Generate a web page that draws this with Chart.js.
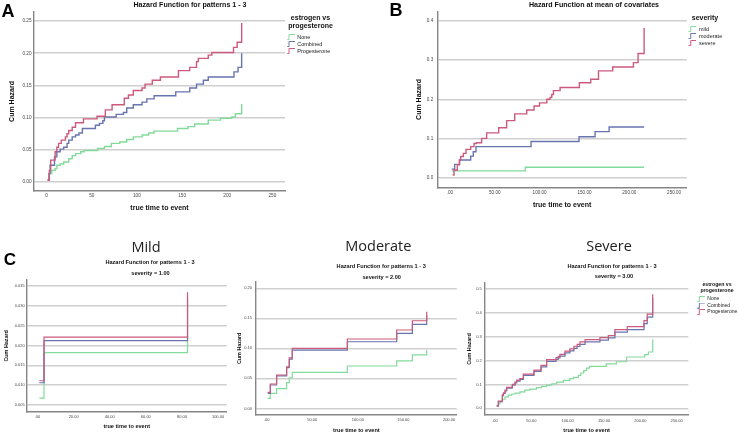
<!DOCTYPE html>
<html>
<head>
<meta charset="utf-8">
<title>Hazard Function</title>
<script src="https://cdn.jsdelivr.net/npm/chart.js@4.4.1/dist/chart.umd.min.js"></script>
<style>
  html, body { margin: 0; padding: 0; background: #fff; }
  body { position: relative; width: 739px; height: 435px; overflow: hidden; }
  canvas { position: absolute; }
  .t { position: absolute; transform: translate(-50%, -50%); white-space: nowrap; line-height: 1;
       font-family: 'Liberation Sans', Arial, sans-serif; color: #111; }
  .panel { font-size: 18px; font-weight: bold; color: #000; }
  .big { font-family: 'Open Sans', sans-serif; font-size: 14.5px; color: #222; }
  .ttl { font-size: 7.1px; font-weight: bold; }
  .sub { font-size: 5.6px; font-weight: bold; }
</style>
</head>
<body>
<canvas id="chartA" width="370" height="215" style="left:0;top:0"></canvas>
<canvas id="chartB" width="369" height="215" style="left:370px;top:0"></canvas>
<canvas id="chartMild" width="240" height="205" style="left:0;top:230px"></canvas>
<canvas id="chartModerate" width="258" height="205" style="left:232px;top:230px"></canvas>
<canvas id="chartSevere" width="284" height="205" style="left:462px;top:230px"></canvas>

<div class="t panel" style="left:8px;top:10.5px">A</div>
<div class="t panel" style="left:396px;top:10px">B</div>
<div class="t panel" style="left:10px;top:259px;font-size:17px">C</div>
<div class="t ttl" style="left:190px;top:6.3px">Hazard Function for patterns 1 - 3</div>
<div class="t ttl" style="left:594px;top:6.3px">Hazard Function at mean of covariates</div>

<div class="t big" style="left:146px;top:247px">Mild</div>
<div class="t sub" style="left:150px;top:263.3px">Hazard Function for patterns 1 - 3</div>
<div class="t sub" style="left:150.5px;top:274.3px">severity = 1.00</div>

<div class="t big" style="left:378.3px;top:246px">Moderate</div>
<div class="t sub" style="left:381.2px;top:267.3px">Hazard Function for patterns 1 - 3</div>
<div class="t sub" style="left:381.7px;top:277.7px">severity = 2.00</div>

<div class="t big" style="left:609px;top:246.3px">Severe</div>
<div class="t sub" style="left:612px;top:266.7px">Hazard Function for patterns 1 - 3</div>
<div class="t sub" style="left:614px;top:277.3px">severity = 3.00</div>

<script>
'use strict';

const FONT = "'Liberation Sans', Arial, sans-serif";
const GREEN = '#82da9b';
const BLUE = '#6874ae';
const RED = '#cc5a7c';
const GRID = '#cfcfcf';
const AXIS = '#858585';

// panel A - estrogen vs progesterone
let aTicksX = [0, 50, 100, 150, 200, 250];
let aTicksY = [0, 0.05, 0.1, 0.15, 0.2, 0.25];
let aNoneTime = [1.5, 3, 5.7, 9.4, 11.3, 15, 18.9, 24.5, 28.3, 32, 37.7, 41.5, 56.6, 64, 71.7, 81, 88.7, 96, 105.7, 113, 119, 145, 156.6, 164, 179, 192.5, 205, 209, 216];
let aNoneHaz = [0.003, 0.013, 0.018, 0.021, 0.026, 0.028, 0.031, 0.036, 0.041, 0.044, 0.047, 0.049, 0.052, 0.055, 0.06, 0.062, 0.066, 0.07, 0.073, 0.076, 0.079, 0.083, 0.086, 0.09, 0.096, 0.099, 0.101, 0.106, 0.121];
let aCombTime = [1, 2.6, 3.8, 8.7, 11.3, 15, 18.9, 22.6, 24.5, 28.3, 32, 35.8, 39.6, 54, 58.5, 62.3, 64, 77, 85, 88.7, 96, 105.7, 111, 119, 143, 158.5, 166, 173.6, 179, 207.5, 212, 216];
let aCombHaz = [0.003, 0.013, 0.026, 0.039, 0.047, 0.051, 0.054, 0.06, 0.065, 0.07, 0.073, 0.076, 0.083, 0.088, 0.091, 0.095, 0.101, 0.105, 0.108, 0.115, 0.12, 0.124, 0.129, 0.134, 0.14, 0.146, 0.152, 0.158, 0.163, 0.171, 0.178, 0.2];
let aProgTime = [1, 3, 4.5, 9.4, 11.3, 13.2, 16.2, 20.8, 22.6, 24.5, 28.3, 32, 40.8, 55.8, 65, 72.5, 86, 90.6, 96, 105.7, 109, 117, 126, 146, 158.5, 166, 168, 179, 183, 207, 211, 216];
let aProgHaz = [0.003, 0.018, 0.034, 0.047, 0.054, 0.06, 0.065, 0.07, 0.075, 0.08, 0.085, 0.092, 0.098, 0.102, 0.112, 0.12, 0.13, 0.135, 0.142, 0.146, 0.152, 0.158, 0.163, 0.173, 0.178, 0.187, 0.192, 0.197, 0.201, 0.209, 0.217, 0.247];

// panel B - severity at mean of covariates
let bTicksX = [0, 50, 100, 150, 200, 250];
let bTicksY = [0, 0.1, 0.2, 0.3, 0.4];
let bMildTime = [1.9, 84, 216.5];
let bMildHaz = [0.0185, 0.028, 0.028];
let bModTime = [1.9, 5.2, 10.8, 23.1, 26, 29, 90.4, 143.9, 161.8, 177.5, 216.5];
let bModHaz = [0.023, 0.035, 0.046, 0.056, 0.067, 0.08, 0.093, 0.105, 0.118, 0.13, 0.13];
let bSevTime = [3, 4.5, 8.2, 10.4, 11.9, 14.9, 17.9, 23.1, 26.8, 29.5, 35.3, 40.9, 54.3, 63.2, 72.2, 85.6, 93.8, 99.8, 108, 111.6, 113.5, 115.4, 122.8, 144.3, 157, 165.6, 181.5, 204.6, 209.8, 216.5];
let bSevHaz = [0.008, 0.021, 0.034, 0.046, 0.055, 0.063, 0.073, 0.08, 0.088, 0.09, 0.101, 0.115, 0.128, 0.146, 0.163, 0.173, 0.183, 0.191, 0.2, 0.205, 0.212, 0.222, 0.23, 0.242, 0.251, 0.272, 0.282, 0.293, 0.316, 0.381];

// panel C - severity = 1
let mildTicksX = [0, 20, 40, 60, 80, 100];
let mildTicksY = [0.005, 0.01, 0.015, 0.02, 0.025, 0.03, 0.035];
let mildTime = [1, 3.6, 83.1];
let mildNoneHaz = [0.0067, 0.0182, 0.0227];
let mildCombHaz = [0.0106, 0.0212, 0.032];
let mildProgHaz = [0.0111, 0.0221, 0.0334];

// panel C - severity = 2
let modTicksX = [0, 50, 100, 150, 200];
let modTicksY = [0, 0.05, 0.1, 0.15, 0.2];
let modTime = [1.1, 4, 10.9, 21.9, 24.8, 28.1, 88.5, 142.6, 159.8, 175.5];
let modNoneHaz = [0.0167, 0.025, 0.033, 0.043, 0.051, 0.06, 0.0706, 0.079, 0.089, 0.097];
let modCombHaz = [0.025, 0.039, 0.054, 0.068, 0.082, 0.097, 0.111, 0.125, 0.14, 0.155];
let modProgHaz = [0.0267, 0.0406, 0.0556, 0.069, 0.084, 0.1, 0.1156, 0.1306, 0.146, 0.161];

// panel C - severity = 3
let sevTicksX = [0, 50, 100, 150, 200, 250];
let sevTicksY = [0, 0.1, 0.2, 0.3, 0.4, 0.5];
let sevNoneTime = [3, 4.6, 6.9, 10.1, 13.8, 18.3, 23, 27.5, 34.4, 41, 48, 57, 64, 71, 78, 85, 94, 103, 108, 114.6, 118, 122, 126, 130, 153, 167, 181, 206, 211, 217];
let sevNoneHaz = [0.008, 0.018, 0.028, 0.038, 0.048, 0.055, 0.06, 0.064, 0.069, 0.076, 0.08, 0.087, 0.092, 0.097, 0.103, 0.11, 0.117, 0.124, 0.13, 0.138, 0.148, 0.158, 0.168, 0.176, 0.186, 0.195, 0.215, 0.225, 0.236, 0.289];
let sevTime = [2.3, 4.6, 10.1, 11.5, 13.8, 16, 23.8, 27.5, 29.8, 34.4, 39, 53.6, 63.3, 71, 83.9, 87, 89.4, 96.3, 103, 108.6, 113, 116.9, 124, 144.4, 156, 165, 182, 205, 209.5, 217];
let sevCombHaz = [0.01, 0.028, 0.053, 0.062, 0.073, 0.085, 0.097, 0.106, 0.114, 0.121, 0.138, 0.155, 0.174, 0.197, 0.205, 0.211, 0.219, 0.232, 0.241, 0.251, 0.259, 0.268, 0.278, 0.286, 0.295, 0.319, 0.33, 0.355, 0.382, 0.462];
let sevProgHaz = [0.01, 0.03, 0.056, 0.065, 0.076, 0.088, 0.1, 0.11, 0.118, 0.125, 0.143, 0.16, 0.18, 0.204, 0.212, 0.218, 0.226, 0.24, 0.249, 0.26, 0.268, 0.278, 0.288, 0.296, 0.305, 0.33, 0.342, 0.367, 0.395, 0.478];


// little step glyph used as the legend symbol
function stepIcon(color, width, offset) {
  let c = document.createElement('canvas');
  c.width = width;
  c.height = 6;
  let ctx = c.getContext('2d');
  ctx.strokeStyle = color;
  ctx.lineWidth = 1;
  ctx.beginPath();
  ctx.moveTo(offset + 0.5, 5.5);
  ctx.lineTo(offset + 2.5, 5.5);
  ctx.lineTo(offset + 2.5, 0.5);
  ctx.lineTo(width, 0.5);
  ctx.stroke();
  return c;
}

function curve(label, times, values, color, order, width, iconW = 8, iconOff = 0) {
  let points = [];
  for (let i = 0; i < times.length; i++) {
    points.push({ x: times[i], y: values[i] });
  }
  return {
    label: label,
    data: points,
    borderColor: color,
    backgroundColor: color,
    borderWidth: width,
    stepped: true,
    fill: false,
    pointRadius: 0,
    pointHitRadius: 0,
    pointStyle: stepIcon(color, iconW, iconOff),
    order: order
  };
}

function timeLabel(v) {
  return v === 0 ? '.00' : v.toFixed(2);
}

function hazardChart(id, datasets, s) {
  let legend = { display: false };
  if (s.legend) {
    legend = {
      display: true,
      position: 'right',
      align: 'start',
      maxWidth: s.legend.width,
      title: {
        display: true,
        text: s.legend.title,
        color: '#111',
        font: { family: FONT, size: s.legend.titleSize, weight: 'bold' },
        padding: s.legend.titlePad
      },
      labels: {
        usePointStyle: true,
        pointStyleWidth: s.legend.iconWidth,
        color: '#222',
        font: { family: FONT, size: s.legend.size },
        padding: 1.5,
        sort: (a, b) => a.datasetIndex - b.datasetIndex
      }
    };
  }

  return new Chart(document.getElementById(id), {
    type: 'line',
    data: { datasets: datasets },
    options: {
      responsive: false,
      animation: false,
      events: [],
      layout: { padding: s.pad },
      plugins: {
        legend: legend,
        tooltip: { enabled: false }
      },
      scales: {
        x: {
          type: 'linear',
          min: s.xRange[0],
          max: s.xRange[1],
          afterBuildTicks: axis => { axis.ticks = s.xTicks.map(v => ({ value: v })); },
          afterFit: axis => { axis.height = s.xHeight; },
          grid: { display: false, drawTicks: false },
          border: { display: true, color: AXIS, width: 1.4 },
          ticks: {
            autoSkip: false,
            maxRotation: 0,
            padding: s.xTickPad,
            color: '#444',
            font: { family: FONT, size: s.tickSize },
            callback: v => s.xLabel(v)
          },
          title: {
            display: true,
            text: 'true time to event',
            color: '#111',
            font: { family: FONT, size: s.xTitleSize, weight: 'bold' },
            padding: { top: 0, bottom: s.xTitlePad }
          }
        },
        y: {
          type: 'linear',
          min: s.yRange[0],
          max: s.yRange[1],
          afterBuildTicks: axis => { axis.ticks = s.yTicks.map(v => ({ value: v })); },
          afterFit: axis => { axis.width = s.yWidth; },
          grid: { color: GRID, lineWidth: 1.5, drawTicks: false },
          border: { display: true, color: AXIS, width: 1.4 },
          ticks: {
            padding: s.yTickPad,
            color: '#444',
            font: { family: FONT, size: s.tickSize },
            callback: v => v.toFixed(s.yDigits)
          },
          title: {
            display: true,
            text: 'Cum Hazard',
            color: '#111',
            font: { family: FONT, size: s.yTitleSize, weight: 'bold' },
            padding: { top: s.yTitlePad, bottom: 0 }
          }
        }
      }
    }
  });
}

let hormoneLegend = {
  title: ['estrogen vs', 'progesterone'],
  titleSize: 7,
  titlePad: { top: 2.5, bottom: 9.85 },
  size: 5.5,
  iconWidth: 8,
  width: 51
};

hazardChart('chartA', [
  curve('None', aNoneTime, aNoneHaz, GREEN, 2, 1.4),
  curve('Combined', aCombTime, aCombHaz, BLUE, 1, 1.4),
  curve('Progesterone', aProgTime, aProgHaz, RED, 0, 1.4)
], {
  pad: { left: 0, top: 12, right: 34, bottom: 0 },
  xRange: [-14, 264], xTicks: aTicksX, xLabel: v => String(v),
  yRange: [-0.014, 0.264], yTicks: aTicksY, yDigits: 2,
  xHeight: 24, yWidth: 34, tickSize: 4.7, xTickPad: 1.8, yTickPad: 2.5,
  xTitleSize: 7, xTitlePad: 2.8, yTitleSize: 7, yTitlePad: 7.8,
  legend: hormoneLegend
});

hazardChart('chartB', [
  curve('mild', bMildTime, bMildHaz, GREEN, 2, 1.4),
  curve('moderate', bModTime, bModHaz, BLUE, 1, 1.4),
  curve('severe', bSevTime, bSevHaz, RED, 0, 1.4)
], {
  pad: { left: 0, top: 11.7, right: 15.7, bottom: 0 },
  xRange: [-13.7, 264], xTicks: bTicksX, xLabel: timeLabel,
  yRange: [-0.023, 0.422], yTicks: bTicksY, yDigits: 1,
  xHeight: 27.7, yWidth: 67.7, tickSize: 4.6, xTickPad: 2.5, yTickPad: 4.5,
  xTitleSize: 7, xTitlePad: 5.8, yTitleSize: 7, yTitlePad: 44.8,
  legend: {
    title: 'severity',
    titleSize: 7,
    titlePad: { top: 2.8, bottom: 1.85 },
    size: 5.5,
    iconWidth: 8,
    width: 36.6
  }
});

hazardChart('chartMild', [
  curve('None', mildTime, mildNoneHaz, GREEN, 2, 1.2),
  curve('Combined', mildTime, mildCombHaz, BLUE, 1, 1.2),
  curve('Progesterone', mildTime, mildProgHaz, RED, 0, 1.2)
], {
  pad: { left: 0, top: 50, right: 13.3, bottom: 0 },
  xRange: [-6, 104.8], xTicks: mildTicksX, xLabel: timeLabel,
  yRange: [0.0033, 0.0365], yTicks: mildTicksY, yDigits: 3,
  xHeight: 23.3, yWidth: 26.7, tickSize: 4, xTickPad: 2.5, yTickPad: 2,
  xTitleSize: 5.6, xTitlePad: 4.94, yTitleSize: 5.4, yTitlePad: 3.46
});

hazardChart('chartModerate', [
  curve('None', modTime, modNoneHaz, GREEN, 2, 1.2),
  curve('Combined', modTime, modCombHaz, BLUE, 1, 1.2),
  curve('Progesterone', modTime, modProgHaz, RED, 0, 1.2)
], {
  pad: { left: 0, top: 51.7, right: 33.3, bottom: 0 },
  xRange: [-11.7, 208.4], xTicks: modTicksX, xLabel: timeLabel,
  yRange: [-0.011, 0.211], yTicks: modTicksY, yDigits: 2,
  xHeight: 20, yWidth: 24, tickSize: 4, xTickPad: 2.5, yTickPad: 4,
  xTitleSize: 5.6, xTitlePad: 1.64, yTitleSize: 5.4, yTitlePad: 4.76
});

hazardChart('chartSevere', [
  curve('None', sevNoneTime, sevNoneHaz, GREEN, 2, 1.2, 15, 7),
  curve('Combined', sevTime, sevCombHaz, BLUE, 1, 1.2, 15, 7),
  curve('Progesterone', sevTime, sevProgHaz, RED, 0, 1.2, 15, 7)
], {
  pad: { left: 0, top: 53, right: 0.3, bottom: 0 },
  xRange: [-13.8, 266], xTicks: sevTicksX, xLabel: timeLabel,
  yRange: [-0.028, 0.525], yTicks: sevTicksY, yDigits: 1,
  xHeight: 20, yWidth: 23, tickSize: 4, xTickPad: 3, yTickPad: 3.3,
  xTitleSize: 5.6, xTitlePad: 1.64, yTitleSize: 5.4, yTitlePad: 4.76,
  legend: {
    title: ['estrogen vs', 'progesterone'],
    titleSize: 5.2,
    titlePad: { top: -1.5, bottom: 7.26 },
    size: 5,
    iconWidth: 15,
    width: 57.4
  }
});
</script>
</body>
</html>
